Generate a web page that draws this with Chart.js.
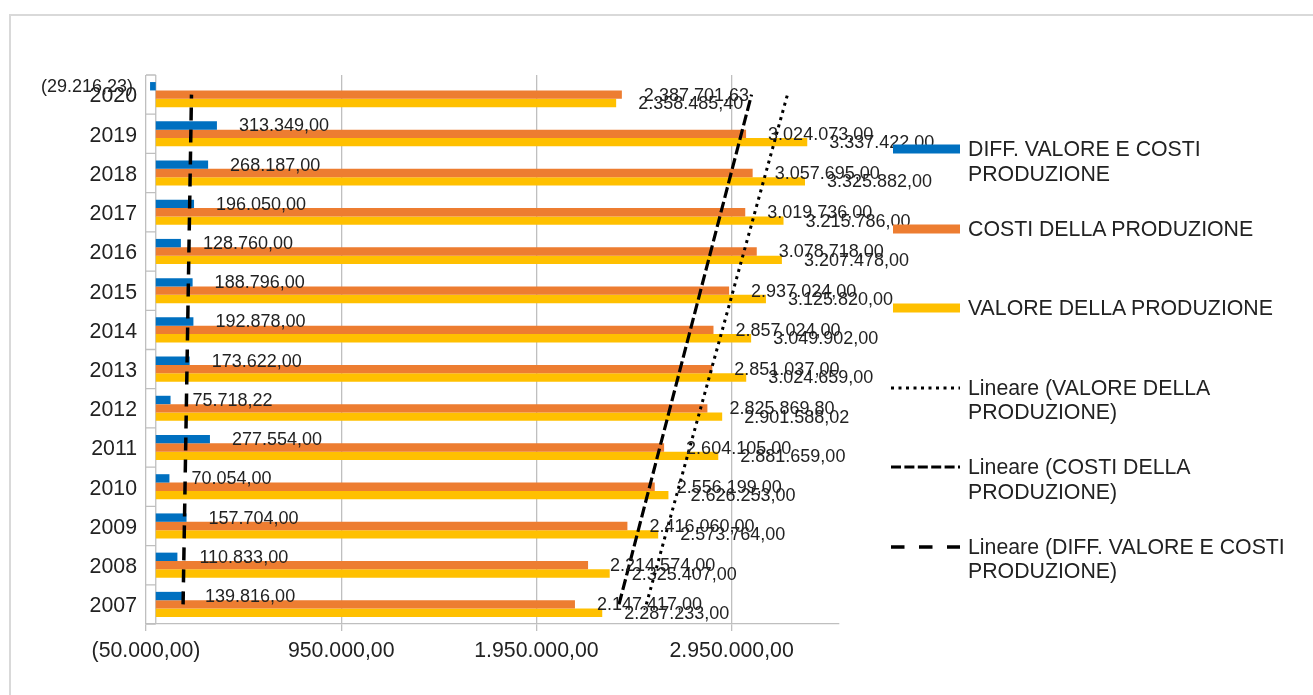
<!DOCTYPE html>
<html lang="it">
<head>
<meta charset="utf-8">
<title>Valore e costi della produzione</title>
<script src="https://cdn.jsdelivr.net/npm/chart.js@4/dist/chart.umd.min.js"></script>
<style>
    html, body { margin: 0; padding: 0; background: #fff; overflow: hidden; width: 1313px; height: 695px; }
    #frame {
        position: absolute; left: 9px; top: 14px; width: 1500px; height: 800px;
        border-left: 2px solid #d9d9d9; border-top: 2px solid #d9d9d9;
    }
    #wrap { position: absolute; left: 0; top: 0; width: 1313px; height: 695px; }
    #legend {
        position: absolute; left: 891px; top: 137px;
        font-family: "Liberation Sans", Arial, sans-serif; font-size: 21.3px; color: #222;
    }
    .item { position: absolute; left: 0; white-space: nowrap; line-height: 24.5px; }
    .item svg { position: absolute; left: 0; top: 7px; }
    .item span { position: absolute; left: 77px; top: 0; }
</style>
</head>
<body>
<div id="frame"></div>
<div id="wrap"><canvas id="chart"></canvas></div>
<div id="legend"></div>

<script>
/* ---------- Data ---------- */
const years = ["2020", "2019", "2018", "2017", "2016", "2015", "2014", "2013", "2012", "2011", "2010", "2009", "2008", "2007"];

const diffValues = [-29216.23, 313349, 268187, 196050, 128760, 188796, 192878, 173622, 75718.22, 277554, 70054, 157704, 110833, 139816];
const costiValues = [2387701.63, 3024073, 3057695, 3019736, 3078718, 2937024, 2857024, 2851037, 2825869.80, 2604105, 2556199, 2416060, 2214574, 2147417];
const valoreValues = [2358485.40, 3337422, 3325882, 3215786, 3207478, 3125820, 3049902, 3024659, 2901588.02, 2881659, 2626253, 2573764, 2325407, 2287233];

const xTicks = [-50000, 950000, 1950000, 2950000];

// trendline ends (2007 -> 2020)
const trendYears = ["2007", "2020"];
const trendValore = [2513000, 3236000];
const trendCosti = [2373000, 3052000];
const trendDiff = [140000, 183000];

const FONT = '"Liberation Sans", Arial, sans-serif';
const TEXT = "#222";
const GRID = "#bfbfbf";
const BLUE = "#0070C0";
const ORANGE = "#ED7D31";
const YELLOW = "#FFC000";

/* ---------- Number format: 1.234.567,00 / (29.216,23) ---------- */
function fmt(v) {
    const parts = Math.abs(v).toFixed(2).split(".");
    const s = parts[0].replace(/\B(?=(\d{3})+(?!\d))/g, ".") + "," + parts[1];
    return v < 0 ? "(" + s + ")" : s;
}

function trendPoints(vals) {
    return trendYears.map((y, i) => ({ x: vals[i], y }));
}

/* ---------- Plugins ---------- */
const categoryAxis = {
    id: "categoryAxis",
    beforeDatasetsDraw(chart) {
        const { ctx, scales: { x, y } } = chart;
        const x0 = x.getPixelForValue(0);
        const step = (y.bottom - y.top) / years.length;
        ctx.save();
        ctx.strokeStyle = GRID;
        ctx.lineWidth = 1.3;
        ctx.beginPath();
        ctx.moveTo(x0, y.top);
        ctx.lineTo(x0, y.bottom);
        for (let k = 0; k <= years.length; k++) {
            const py = y.top + k * step;
            ctx.moveTo(x.left, py);
            ctx.lineTo(x0, py);
        }
        ctx.stroke();
        ctx.restore();
    }
};

const valueLabels = {
    id: "valueLabels",
    afterDatasetsDraw(chart) {
        const ctx = chart.ctx;
        ctx.save();
        ctx.font = "18px " + FONT;
        ctx.fillStyle = TEXT;
        ctx.textBaseline = "middle";
        chart.data.datasets.forEach((ds, i) => {
            if (ds.type === "line") return;
            chart.getDatasetMeta(i).data.forEach((bar, j) => {
                const v = ds.data[j];
                if (v < 0) {
                    ctx.textAlign = "right";
                    ctx.fillText(fmt(v), bar.x - 17, bar.y + 1);
                } else {
                    ctx.textAlign = "left";
                    ctx.fillText(fmt(v), bar.x + 22, bar.y + 1);
                }
            });
        });
        ctx.restore();
    }
};

/* ---------- Chart ---------- */
const trendStyle = { type: "line", pointRadius: 0, fill: false, borderColor: "#000", order: -1, borderCapStyle: "butt" };

new Chart(document.getElementById("chart"), {
    type: "bar",
    data: {
        labels: years,
        datasets: [
            { label: "DIFF. VALORE E COSTI PRODUZIONE", data: diffValues, backgroundColor: BLUE },
            { label: "COSTI DELLA PRODUZIONE", data: costiValues, backgroundColor: ORANGE },
            { label: "VALORE DELLA PRODUZIONE", data: valoreValues, backgroundColor: YELLOW },
            Object.assign({ label: "Lineare (VALORE DELLA PRODUZIONE)", data: trendPoints(trendValore), borderWidth: 3, borderDash: [3, 4.5] }, trendStyle),
            Object.assign({ label: "Lineare (COSTI DELLA PRODUZIONE)", data: trendPoints(trendCosti), borderWidth: 3.2, borderDash: [11, 4] }, trendStyle),
            Object.assign({ label: "Lineare (DIFF. VALORE E COSTI PRODUZIONE)", data: trendPoints(trendDiff), borderWidth: 3.5, borderDash: [13, 9] }, trendStyle)
        ]
    },
    options: {
        indexAxis: "y",
        responsive: true,
        maintainAspectRatio: false,
        animation: false,
        categoryPercentage: 0.64,
        barPercentage: 1,
        layout: { padding: { left: 0, top: 75, right: 474, bottom: 0 } },
        plugins: { legend: { display: false }, tooltip: { enabled: false } },
        scales: {
            x: {
                type: "linear",
                min: -50000,
                max: 3500000,
                afterBuildTicks: s => { s.ticks = xTicks.map(v => ({ value: v })); },
                grid: { color: GRID, lineWidth: 1.3, tickLength: 7, drawTicks: true },
                border: { color: GRID, width: 1.3 },
                ticks: {
                    font: { family: FONT, size: 21.3 }, color: TEXT, padding: 7,
                    maxRotation: 0, autoSkip: false, callback: v => fmt(v)
                },
                afterFit: s => { s.height = 71; }
            },
            y: {
                type: "category",
                offset: true,
                grid: { display: false, drawTicks: false },
                border: { display: false },
                ticks: { font: { family: FONT, size: 21.3 }, color: TEXT, padding: 9, labelOffset: 2 },
                afterFit: s => { s.width = 146; }
            }
        }
    },
    plugins: [categoryAxis, valueLabels]
});

/* ---------- Legend ---------- */
const legendItems = [
    { lines: ["DIFF. VALORE E COSTI", "PRODUZIONE"], color: BLUE },
    { lines: ["COSTI DELLA PRODUZIONE"], color: ORANGE },
    { lines: ["VALORE DELLA PRODUZIONE"], color: YELLOW },
    { lines: ["Lineare (VALORE DELLA", "PRODUZIONE)"], dash: "3 4.5", width: 3 },
    { lines: ["Lineare (COSTI DELLA", "PRODUZIONE)"], dash: "10 3.4", width: 3.2 },
    { lines: ["Lineare (DIFF. VALORE E COSTI", "PRODUZIONE)"], dash: "13.5 14.5", width: 3.5 }
];

const legend = document.getElementById("legend");
legendItems.forEach((it, i) => {
    const div = document.createElement("div");
    div.className = "item";
    div.style.top = (i * 79.5) + "px";
    const mark = it.color
        ? `<line x1="2" y1="5" x2="69" y2="5" stroke="${it.color}" stroke-width="9"/>`
        : `<line x1="0" y1="5" x2="69" y2="5" stroke="#000" stroke-width="${it.width}" stroke-dasharray="${it.dash}"/>`;
    div.innerHTML = `<svg width="70" height="10">${mark}</svg><span>${it.lines.join("<br>")}</span>`;
    legend.appendChild(div);
});
</script>
</body>
</html>
